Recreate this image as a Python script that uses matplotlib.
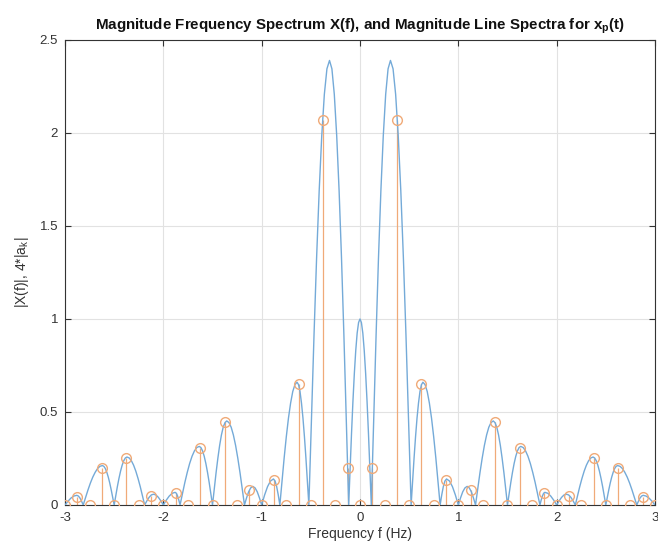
import numpy as np
import matplotlib
matplotlib.use("Agg")
import matplotlib.pyplot as plt

plt.rcParams['font.family'] = ['Liberation Sans', 'DejaVu Sans']

# ---- continuous magnitude spectrum |X(f)| (f >= 0; symmetric) ----
f_pos = [0.0, 0.0144, 0.0288, 0.0431, 0.0575, 0.0719, 0.0863, 0.1006, 0.115,
         0.1394, 0.1638, 0.1881, 0.2125, 0.2369, 0.2613, 0.2856, 0.31,
         0.3363, 0.3625, 0.3888, 0.415, 0.4413, 0.4675, 0.4938, 0.52,
         0.535, 0.55, 0.565, 0.58, 0.595, 0.61, 0.625, 0.64,
         0.6619, 0.6838, 0.7056, 0.7275, 0.7494, 0.7713, 0.7931, 0.815,
         0.8313, 0.8475, 0.8638, 0.88, 0.91, 0.94, 0.97, 1.0,
         1.0225, 1.045, 1.0675, 1.09, 1.1113, 1.1325, 1.1538, 1.175,
         1.1975, 1.22, 1.2425, 1.265, 1.2875, 1.31, 1.3325, 1.355,
         1.3731, 1.3913, 1.4094, 1.4275, 1.4456, 1.4638, 1.4819, 1.5,
         1.5169, 1.5338, 1.5506, 1.5675, 1.5844, 1.6013, 1.6181, 1.635,
         1.6594, 1.6838, 1.7081, 1.7325, 1.7569, 1.7813, 1.8056, 1.83,
         1.8425, 1.855, 1.8675, 1.88, 1.91, 1.94, 1.97, 2.0,
         2.025, 2.05, 2.075, 2.1, 2.1225, 2.145, 2.1675, 2.19,
         2.2125, 2.235, 2.2575, 2.28, 2.3025, 2.325, 2.3475, 2.37,
         2.3863, 2.4025, 2.4188, 2.435, 2.4513, 2.4675, 2.4838, 2.5,
         2.515, 2.53, 2.545, 2.56, 2.575, 2.59, 2.605, 2.62,
         2.6444, 2.6688, 2.6931, 2.7175, 2.7419, 2.7663, 2.7906, 2.815,
         2.8313, 2.8475, 2.8638, 2.88, 2.91, 2.94, 2.97, 3.0]
X_pos = [1.0, 0.981, 0.924, 0.831, 0.707, 0.556, 0.383, 0.195, 0.0,
         0.466, 0.915, 1.329, 1.690, 1.986, 2.208, 2.345, 2.39,
         2.345, 2.208, 1.986, 1.690, 1.329, 0.915, 0.466, 0.0,
         0.129, 0.253, 0.367, 0.467, 0.548, 0.610, 0.647, 0.66,
         0.647, 0.610, 0.548, 0.467, 0.367, 0.253, 0.129, 0.0,
         0.054, 0.099, 0.129, 0.14, 0.129, 0.099, 0.054, 0.0,
         0.038, 0.071, 0.092, 0.10, 0.092, 0.071, 0.038, 0.0,
         0.088, 0.173, 0.251, 0.320, 0.376, 0.418, 0.443, 0.452,
         0.443, 0.418, 0.376, 0.320, 0.251, 0.173, 0.088, 0.0,
         0.061, 0.121, 0.175, 0.223, 0.262, 0.291, 0.309, 0.315,
         0.309, 0.291, 0.262, 0.223, 0.175, 0.121, 0.061, 0.0,
         0.026, 0.048, 0.063, 0.068, 0.063, 0.048, 0.026, 0.0,
         0.022, 0.041, 0.054, 0.058, 0.054, 0.041, 0.022, 0.0,
         0.050, 0.099, 0.143, 0.182, 0.214, 0.238, 0.253, 0.258,
         0.253, 0.238, 0.214, 0.182, 0.143, 0.099, 0.050, 0.0,
         0.041, 0.081, 0.118, 0.150, 0.176, 0.196, 0.208, 0.212,
         0.208, 0.196, 0.176, 0.150, 0.118, 0.081, 0.041, 0.0,
         0.020, 0.037, 0.048, 0.052, 0.048, 0.037, 0.020, 0.0]

# ---- line spectra 4*|a_k| at f = k/8, k = 0..24 (symmetric) ----
line_k_pos = list(range(0, 25))
line_mag_pos = [0.0, 0.20, 0.0, 2.07, 0.0, 0.65, 0.0, 0.133, 0.0,
                0.078, 0.0, 0.445, 0.0, 0.305, 0.0, 0.062, 0.0,
                0.05, 0.0, 0.25, 0.0, 0.20, 0.0, 0.045, 0.0]
f_step = 0.125

x_ticks = [-3, -2, -1, 0, 1, 2, 3]
y_ticks = [0, 0.5, 1, 1.5, 2, 2.5]
x_ticklabels = ['-3', '-2', '-1', '0', '1', '2', '3']
y_ticklabels = ['0', '0.5', '1', '1.5', '2', '2.5']

title_text = r'Magnitude Frequency Spectrum X(f), and Magnitude Line Spectra for x$_\mathregular{p}$(t)'
xlabel_text = 'Frequency f (Hz)'
ylabel_text = r'|X(f)|, 4*|a$_\mathregular{k}$|'

# build symmetric series
fp = np.array(f_pos)
Xp = np.array(X_pos)
f_all = np.concatenate([-fp[::-1], fp[1:]])
X_all = np.concatenate([Xp[::-1], Xp[1:]])

kp = np.array(line_k_pos)
mp = np.array(line_mag_pos)
k_all = np.concatenate([-kp[::-1], kp[1:]])
m_all = np.concatenate([mp[::-1], mp[1:]])
f_lines = k_all * f_step

blue = '#74aad8'
orange = '#f0aa78'
dark = '#333333'

fig = plt.figure(figsize=(6.58, 5.44), dpi=100)
ax = fig.add_axes([0.0988, 0.0717, 0.8966, 0.8548])

ax.plot(f_all, X_all, color=blue, lw=1.0, zorder=3)
ml, sl, bl = ax.stem(f_lines, m_all, basefmt=' ')
plt.setp(sl, color=orange, lw=0.9, zorder=2)
plt.setp(ml, marker='o', markersize=7, markerfacecolor='none',
         markeredgecolor=orange, markeredgewidth=1.0, zorder=4)

ax.set_xlim(-3, 3)
ax.set_ylim(0, 2.5)
ax.set_xticks(x_ticks)
ax.set_xticklabels(x_ticklabels)
ax.set_yticks(y_ticks)
ax.set_yticklabels(y_ticklabels)
ax.grid(True, color='#e2e2e2', lw=0.8)
ax.set_axisbelow(True)
ax.tick_params(direction='in', top=True, right=True, length=4, width=0.8,
               colors=dark, labelsize=9.5, pad=5)
for s in ax.spines.values():
    s.set_color(dark)
    s.set_linewidth(0.8)

ax.set_title(title_text, fontsize=10.9, fontweight='bold', color='#111111', pad=8)
ax.set_xlabel(xlabel_text, fontsize=10, color=dark, labelpad=2)
ax.set_ylabel(ylabel_text, fontsize=10, color=dark, labelpad=6)

fig.savefig('out.png', dpi=100)
